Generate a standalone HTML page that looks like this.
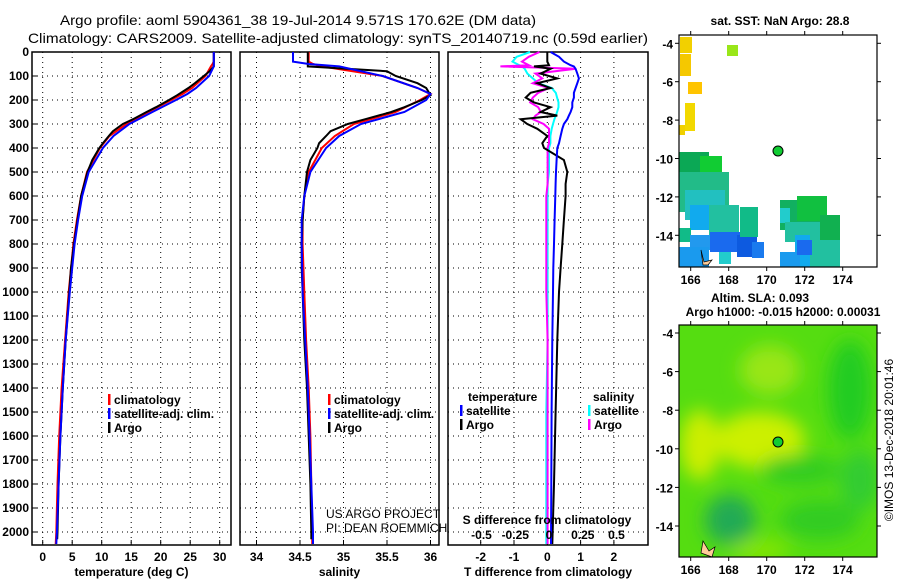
<!DOCTYPE html>
<html><head><meta charset="utf-8">
<style>
body{margin:0;background:#fff;}
svg{display:block;font-family:"Liberation Sans",sans-serif;}
.tk{font-size:12px;font-weight:bold;}
.lg{font-size:12px;font-weight:bold;}
</style></head>
<body>
<svg id="fig" width="900" height="580" viewBox="0 0 900 580" xmlns="http://www.w3.org/2000/svg">
<text x="298" y="25" font-size="14" text-anchor="middle" textLength="476" lengthAdjust="spacingAndGlyphs">Argo profile: aoml 5904361_38 19-Jul-2014 9.571S 170.62E (DM data)</text>
<text x="338" y="43" font-size="14" text-anchor="middle" textLength="620" lengthAdjust="spacingAndGlyphs">Climatology: CARS2009. Satellite-adjusted climatology: synTS_20140719.nc (0.59d earlier)</text>
<g id="charts"></g>
<g id="maps"></g>
<text transform="translate(893,440) rotate(-90)" font-size="12" text-anchor="middle">©IMOS 13-Dec-2018 20:01:46</text>
</svg>
<script>
// ---- data ----
const depthTicks = [0,100,200,300,400,500,600,700,800,900,1000,1100,1200,1300,1400,1500,1600,1700,1800,1900,2000];
const tempTicks = [0,5,10,15,20,25,30];
const salTicks = [34,34.5,35,35.5,36];
const salTickLabels = ["34","34.5","35","35.5","36"];
const tdTicks = [-2,-1,0,1,2];
const sdTicks = [-0.5,-0.25,0,0.25,0.5];
const sdTickLabels = ["-0.5","-0.25","0","0.25","0.5"];

const argoDepth = [0,60,80,100,130,150,180,200,230,250,280,300,330,350,380,400,450,500,600,700,800,900,1000,1200,1400,1600,1800,2000,2030];
const argoTemp  = [29,29,28.3,27.3,25.8,24.7,22.8,21.4,19.2,17.6,15.3,13.6,11.9,11.2,10.2,9.6,8.4,7.6,6.5,5.9,5.3,4.8,4.5,3.9,3.4,3.0,2.7,2.5,2.45];
const argoSal   = [34.59,34.59,35.5,35.6,35.85,35.95,36.0,35.9,35.7,35.55,35.25,35.05,34.85,34.8,34.72,34.7,34.62,34.58,34.55,34.53,34.52,34.52,34.53,34.55,34.58,34.6,34.62,34.63,34.63];
const climDepth = [0,40,50,60,100,150,175,200,250,300,350,400,500,600,700,800,1000,1200,1400,1600,1800,2000,2050];
const climTemp  = [29,29,28.8,28.5,27.6,25.3,23.7,21.8,17.9,14.2,11.3,9.7,7.5,6.5,5.8,5.2,4.4,3.8,3.2,2.8,2.5,2.3,2.2];
const climSal   = [34.6,34.6,34.65,34.75,35.45,35.85,36.0,35.88,35.6,35.12,34.9,34.75,34.6,34.55,34.53,34.53,34.55,34.57,34.6,34.62,34.63,34.64,34.64];
const satTemp   = [29,29,29,29,28.2,26,24.5,22.6,18.6,14.7,12,10.2,7.8,6.7,6.0,5.4,4.6,3.9,3.4,3.0,2.7,2.4,2.3];
const satSal    = [34.42,34.42,34.6,34.95,35.45,35.85,36.0,35.95,35.7,35.2,34.95,34.8,34.62,34.55,34.52,34.52,34.53,34.56,34.59,34.61,34.63,34.65,34.65];

const dDepth = [0,20,40,55,60,70,90,110,130,150,170,190,210,230,250,265,280,300,320,350,380,400,450,500,550,600,700,800,900,1000,1200,1500,1800,2050];
const tdArgo = [0,0,0,0.05,-0.4,0.1,-0.2,0.3,-0.3,0.1,-0.5,-0.65,-0.4,0.1,-0.2,0.3,-0.8,-0.6,-0.3,0.0,-0.15,-0.1,0.5,0.6,0.55,0.55,0.5,0.45,0.4,0.35,0.3,0.25,0.2,0.15];
const tdSat  = [0.1,0.35,0.5,0.7,0.8,0.85,0.9,0.95,0.9,0.85,0.8,0.8,0.75,0.75,0.7,0.65,0.6,0.5,0.45,0.4,0.35,0.3,0.28,0.26,0.25,0.24,0.22,0.2,0.18,0.17,0.15,0.13,0.12,0.11];
const sdArgo = [-0.07,-0.15,-0.2,-0.15,-0.36,0.2,-0.1,-0.05,-0.12,0.0,-0.08,-0.12,-0.14,-0.08,-0.06,-0.1,-0.12,-0.04,0.0,0.0,0.0,-0.01,-0.01,-0.01,-0.01,-0.02,-0.02,-0.02,-0.02,-0.02,-0.01,-0.01,-0.01,-0.01];
const sdSat  = [-0.14,-0.24,-0.27,-0.22,-0.2,-0.18,-0.16,-0.12,-0.08,0.02,0.05,0.06,0.07,0.07,0.06,0.05,0.04,0.03,0.02,0.01,0.01,0.0,0.0,0.0,-0.01,-0.01,-0.01,-0.01,-0.01,-0.01,-0.01,-0.02,-0.02,-0.02];

const NS="http://www.w3.org/2000/svg";
const charts=document.getElementById('charts');
function mk(tag,attrs,parent){const e=document.createElementNS(NS,tag);for(const k in attrs)e.setAttribute(k,attrs[k]);(parent||charts).appendChild(e);return e;}
const TOP=52,BOT=545;
const yD=d=>TOP+d*0.24;

function panel(x0,x1,xs,ticks,labels,title,name){
  const g=mk('g',{});
  
  
  depthTicks.forEach(d=>{if(d>0){const l=mk('line',{x1:x0,x2:x1,y1:yD(d),y2:yD(d),stroke:'#000','stroke-dasharray':'1,4'},g);}});
  ticks.forEach((t,i)=>{const x=xs(t);
    const l=mk('line',{x1:x,x2:x,y1:TOP,y2:BOT,stroke:'#000','stroke-dasharray':'1,4'},g);
    mk('line',{x1:x,x2:x,y1:BOT,y2:BOT-5,stroke:'#000'},g);
    const tx=mk('text',{x:x,y:561,'text-anchor':'middle',class:'tk'},g);tx.textContent=labels[i];
    });
  const r=mk('rect',{x:x0,y:TOP,width:x1-x0,height:BOT-TOP,fill:'none',stroke:'#000','stroke-width':1.5},g);
  
  const t=mk('text',{x:(x0+x1)/2,y:576,'text-anchor':'middle',class:'tk'},g);t.textContent=title;
  
  return g;
}
function line(xs,depths,vals,color,g,name,w){
  const pts=depths.map((d,i)=>xs(vals[i]).toFixed(1)+','+yD(d).toFixed(1)).join(' ');
  const p=mk('polyline',{points:pts,fill:'none',stroke:color,'stroke-width':w||2},g);
  
}
function legend(x,y,items,g){items.forEach((it,i)=>{
  mk('rect',{x:x,y:y+i*14-10,width:2.5,height:11,fill:it[1]},g);
  const t=mk('text',{x:x+6,y:y+i*14,class:'lg'},g);t.textContent=it[0];
  });}

// y labels
depthTicks.forEach(d=>{const t=mk('text',{x:29,y:yD(d)+4,'text-anchor':'end',class:'tk'});t.textContent=d;
  
  mk('line',{x1:32,x2:37,y1:yD(d),y2:yD(d),stroke:'#000'});});

// temperature panel
const xT=v=>42.7+v*5.9;
const g1=panel(32,231,xT,tempTicks,tempTicks.map(String),'temperature (deg C)','temperature-panel');
line(xT,climDepth,climTemp,'#f00',g1,'temp-climatology-line');
line(xT,argoDepth,argoTemp,'#000',g1,'temp-argo-line');
line(xT,climDepth,satTemp,'#00f',g1,'temp-satellite-line');
legend(108,404,[['climatology','#f00'],['satellite-adj. clim.','#00f'],['Argo','#000']],g1);

// salinity panel
const xS=v=>300+(v-34.5)*87;
const g2=panel(240,439,xS,salTicks,salTickLabels,'salinity','salinity-panel');
line(xS,climDepth,climSal,'#f00',g2,'sal-climatology-line');
line(xS,argoDepth,argoSal,'#000',g2,'sal-argo-line');
line(xS,climDepth,satSal,'#00f',g2,'sal-satellite-line');
legend(328,404,[['climatology','#f00'],['satellite-adj. clim.','#00f'],['Argo','#000']],g2);
const c1=mk('text',{x:326,y:518,'font-size':12},g2);c1.textContent='US ARGO PROJECT';
const c2=mk('text',{x:326,y:532,'font-size':12},g2);c2.textContent='PI: DEAN ROEMMICH';

// difference panel
const xTD=v=>547.3+v*33.3;
const xSD=v=>549+v*135;
const g3=panel(448,648,xTD,tdTicks,tdTicks.map(String),'T difference from climatology','difference-panel');
line(xSD,dDepth,sdSat,'#0ff',g3,'sdiff-satellite-line');
line(xSD,dDepth,sdArgo,'#f0f',g3,'sdiff-argo-line');
line(xTD,dDepth,tdArgo,'#000',g3,'tdiff-argo-line');
line(xTD,dDepth,tdSat,'#00f',g3,'tdiff-satellite-line');
const lt=mk('text',{x:468,y:401,class:'lg'},g3);lt.textContent='temperature';
const ls=mk('text',{x:593,y:401,class:'lg'},g3);ls.textContent='salinity';
legend(460,415,[['satellite','#00f'],['Argo','#000']],g3);
legend(588,415,[['satellite','#0ff'],['Argo','#f0f']],g3);
const st=mk('text',{x:547,y:524,'text-anchor':'middle',class:'lg'},g3);st.textContent='S difference from climatology';

sdTicks.forEach((v,i)=>{const t=mk('text',{x:xSD(v),y:539,'text-anchor':'middle',class:'tk'},g3);t.textContent=sdTickLabels[i];
  });

// ---- maps ----
const maps=document.getElementById('maps');
function mm(tag,attrs,parent){const e=document.createElementNS(NS,tag);for(const k in attrs)e.setAttribute(k,attrs[k]);(parent||maps).appendChild(e);return e;}
const lonTicks=[166,168,170,172,174];
const latTicks=[-4,-6,-8,-10,-12,-14];
function mapFrame(y0,y1,latY,g){
  mm('rect',{x:679,y:y0,width:198,height:y1-y0,fill:'none',stroke:'#000','stroke-width':1.2},g);
  lonTicks.forEach(l=>{const x=690.7+(l-166)*19;mm('line',{x1:x,x2:x,y1:y1,y2:y1+4,stroke:'#000'},g);mm('line',{x1:x,x2:x,y1:y0,y2:y0-4,stroke:'#000'},g);
    const t=mm('text',{x:x,y:y1+17,'text-anchor':'middle',class:'tk'},g);t.textContent=l;});
  latTicks.forEach(l=>{const y=latY(l);mm('line',{x1:675,x2:679,y1:y,y2:y,stroke:'#000'},g);mm('line',{x1:877,x2:881,y1:y,y2:y,stroke:'#000'},g);
    const t=mm('text',{x:673,y:y+5,'text-anchor':'end',class:'tk'},g);t.textContent=l;});
}
// SST map
const gm1=mm('g',{});
const t1=mm('text',{x:780,y:25,'text-anchor':'middle','font-size':12,'font-weight':'bold'},gm1);t1.textContent='sat. SST: NaN Argo: 28.8';
[[680,37,12,16,'#f2d000'],[680,54,11,22,'#f5c800'],[688,82,14,12,'#ffc400'],[685,103,10,28,'#f2d800'],[679,125,6,10,'#f0d000'],[727,45,11,11,'#99e619'],
 [679,152,30,40,'#0ba855'],[700,156,22,20,'#11cc33'],[679,172,50,40,'#22bb88'],[685,190,40,30,'#22c0c0'],[690,205,35,25,'#11aaee'],
 [709,205,30,40,'#22c0a0'],[679,228,12,14,'#11bb88'],[690,235,20,15,'#2299ee'],[710,232,40,20,'#1a6aee'],[679,247,30,20,'#1a9aee'],
 [737,235,20,22,'#0d5ae0'],[752,242,12,16,'#1a7aee'],[719,252,12,12,'#22cccc'],[740,207,18,30,'#11bb88'],
 [780,200,40,30,'#11b060'],[797,196,30,25,'#11c040'],[780,208,10,15,'#22cccc'],[785,222,40,20,'#22c0a0'],[795,235,40,32,'#11aaee'],[810,222,30,45,'#22c0a0'],[820,215,20,25,'#11b050'],[780,252,20,15,'#1a9aee'],[797,240,15,15,'#1a6aee']
].forEach(b=>{const r=mm('rect',{x:b[0],y:b[1],width:b[2],height:b[3],fill:b[4]},gm1);});
mm('path',{d:'M701,250 l3,12 l8,-2 l-4,5 l-5,0 z',fill:'#fc9',stroke:'#000','stroke-width':0.7},gm1);
mm('circle',{cx:778,cy:151,r:5,fill:'#11cc33',stroke:'#000','stroke-width':1},gm1);
mapFrame(35,267,l=>43.3+(-4-l)*19.2,gm1);
// SLA map
const gm2=mm('g',{});
const t2=mm('text',{x:760,y:302,'text-anchor':'middle','font-size':12,'font-weight':'bold'},gm2);t2.textContent='Altim. SLA: 0.093';
const t3=mm('text',{x:783,y:316,'text-anchor':'middle','font-size':12,'font-weight':'bold'},gm2);t3.textContent='Argo h1000: -0.015 h2000: 0.00031';
const defs=mm('defs',{},gm2);
const f=mm('filter',{id:'bl'},defs);mm('feGaussianBlur',{stdDeviation:9},f);
const cp=mm('clipPath',{id:'cp'},defs);mm('rect',{x:679,y:325,width:198,height:232},cp);
const gg=mm('g',{'clip-path':'url(#cp)'},gm2);
mm('rect',{x:679,y:325,width:198,height:232,fill:'#55dd11'},gg);
const gb=mm('g',{filter:'url(#bl)'},gg);
[[760,440,45,28,'#ccf000'],[700,445,20,35,'#ccee00'],[770,370,30,25,'#99e619'],[850,390,22,50,'#22cc22'],[730,520,25,25,'#22aa55'],[820,520,40,20,'#33cc22'],[800,470,40,15,'#33cc22'],[860,480,20,30,'#33cc33'],[760,550,30,10,'#88e600']]
.forEach(b=>mm('ellipse',{cx:b[0],cy:b[1],rx:b[2],ry:b[3],fill:b[4]},gb));
mm('path',{d:'M701,553 l2,-12 l6,10 l6,-4 l-3,10 z',fill:'#fc9',stroke:'#000','stroke-width':0.7},gm2);
mm('circle',{cx:778,cy:442,r:5,fill:'#11cc33',stroke:'#000','stroke-width':1},gm2);
mapFrame(325,557,l=>333+(-4-l)*19.3,gm2);
</script>
</body></html>
